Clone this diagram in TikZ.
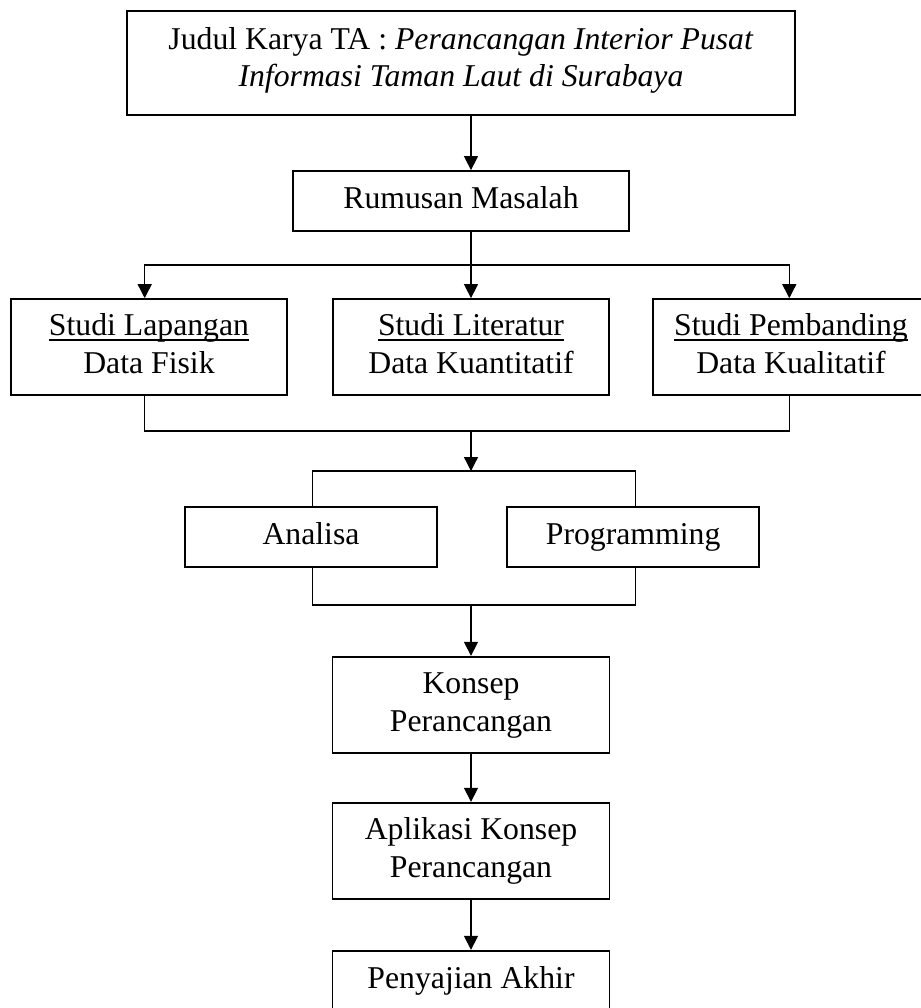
\documentclass[tikz,border=0pt]{standalone}
\usepackage{fontspec}
\setmainfont{Liberation Serif}
\usetikzlibrary{arrows.meta}
\newcommand{\sst}{\rule[-0.215em]{0pt}{0.9em}}
\newcommand{\tst}{\rule[-0.38em]{0pt}{0.76em}}
\newcommand{\myul}[1]{\setbox0\hbox{#1}\rlap{\rule[-0.16em]{\wd0}{0.05em}}\box0}
\begin{document}
\begin{tikzpicture}[x=0.75pt,y=-0.75pt,
  box/.style={draw, line width=1.3pt, inner sep=0pt, align=center,
    font=\fontsize{23.8pt}{28.1pt}\selectfont},
  link/.style={line width=1pt},
  arr/.style={link, -{Triangle[length=10.5pt,width=10.5pt]}}]
\useasboundingbox (0,0) rectangle (921,1008);
\clip (0,0) rectangle (921,1008);

\node[box, minimum width=668.6*0.75pt, minimum height=104.3*0.75pt] (judul) at (461,62.85)
  {\tst Judul Karya TA : \textit{Perancangan Interior Pusat}\\\tst\textit{Informasi Taman Laut di Surabaya}};
\node[box, minimum width=336.6*0.75pt, minimum height=59.7*0.75pt] (rumusan) at (461,200.85)
  {\sst Rumusan Masalah};
\node[box, minimum width=276.6*0.75pt, minimum height=96*0.75pt] (lap) at (149,347)
  {\sst\myul{Studi Lapangan}\\\sst Data Fisik};
\node[box, minimum width=276.6*0.75pt, minimum height=96*0.75pt] (lit) at (471,347)
  {\sst\myul{Studi Literatur}\\\sst Data Kuantitatif};
\node[box, minimum width=276*0.75pt, minimum height=96*0.75pt] (pem) at (791,347)
  {\sst\myul{Studi Pembanding}\\\sst Data Kualitatif};
\node[box, minimum width=252.6*0.75pt, minimum height=60.3*0.75pt] (ana) at (311,536.85)
  {\sst Analisa};
\node[box, minimum width=252.3*0.75pt, minimum height=60.3*0.75pt] (prog) at (633.15,536.85)
  {\sst Programming};
\node[box, minimum width=277*0.75pt, minimum height=96.6*0.75pt] (konsep) at (471,705)
  {\sst Konsep\\\sst Perancangan};
\node[box, minimum width=277*0.75pt, minimum height=96.3*0.75pt] (aplikasi) at (471,850.85)
  {\sst Aplikasi Konsep\\\sst Perancangan};
\node[box, minimum width=277*0.75pt, minimum height=59.8*0.75pt] (saji) at (471,980.6)
  {\sst Penyajian Akhir};

\coordinate (cx) at (471,0);
\coordinate (xL) at (144.7,0);
\coordinate (xR) at (789.3,0);
\coordinate (xA) at (312.7,0);
\coordinate (xP) at (635.3,0);
\coordinate (br) at (471,265);
\coordinate (mg) at (471,431);
\coordinate (top2) at (471,471);
\coordinate (mg2) at (471,605);

\draw[arr] (judul.south -| cx) -- (rumusan.north -| cx);
\draw[arr] (rumusan.south -| cx) -- (lit.north);
\draw[arr] (br) -| (lap.north -| xL);
\draw[arr] (br) -| (pem.north -| xR);
\draw[link] (lap.south -| xL) |- (mg) -| (pem.south -| xR);
\draw[arr] (mg) -- (top2);
\draw[link] (ana.north -| xA) |- (top2) -| (prog.north -| xP);
\draw[link] (ana.south -| xA) |- (mg2) -| (prog.south -| xP);
\draw[arr] (mg2) -- (konsep.north);
\draw[arr] (konsep.south) -- (aplikasi.north);
\draw[arr] (aplikasi.south) -- (saji.north);
\end{tikzpicture}
\end{document}
